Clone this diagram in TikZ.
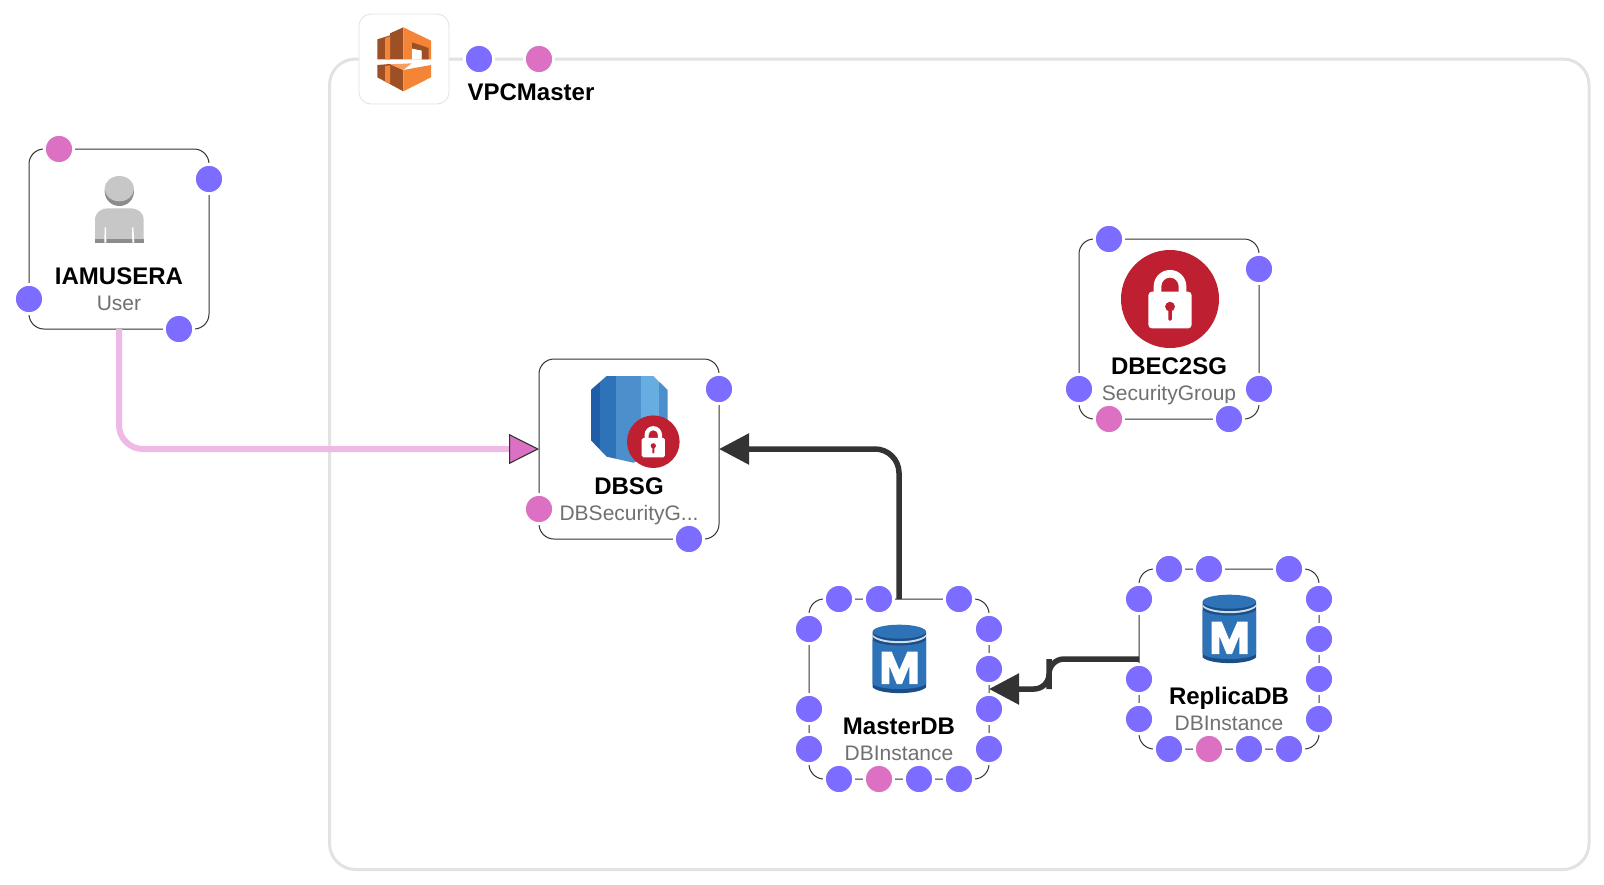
\documentclass[tikz,border=0pt]{standalone}
\usepackage{fontspec}
\setmainfont{Liberation Sans}
\usetikzlibrary{arrows.meta}
\definecolor{portblue}{HTML}{7C6CFF}
\definecolor{portpink}{HTML}{DC70C3}
\definecolor{pinkline}{HTML}{EEB9E5}
\definecolor{darkline}{HTML}{333333}
\definecolor{groupline}{HTML}{E2E2E2}
\definecolor{subtext}{HTML}{707070}
\definecolor{lockred}{HTML}{BE2031}
\definecolor{awsor}{HTML}{F58536}
\definecolor{awsdk}{HTML}{9D5025}
\definecolor{dbblue}{HTML}{2E73B8}
\definecolor{dbdark}{HTML}{1B4E86}
\definecolor{rdsa}{HTML}{1F5DA8}
\definecolor{rdsb}{HTML}{2E73B8}
\definecolor{rdsc}{HTML}{4D8FCC}
\definecolor{rdsd}{HTML}{66ADE1}
\tikzset{
  x=0.5pt,y=-0.5pt,
  resbox/.style={draw=darkline,line width=0.5pt,fill=white,rounded corners=7.5pt,minimum size=90pt,inner sep=0pt,outer sep=0pt},
  groupbox/.style={draw=groupline,line width=1.5pt,rounded corners=13pt,minimum width=629.75pt,minimum height=405.25pt,inner sep=0pt,outer sep=0pt},
  iconbox/.style={draw=groupline,line width=0.4pt,fill=white,rounded corners=6pt,minimum size=45pt,inner sep=0pt},
  bport/.style={circle,fill=portblue,draw=white,line width=1.4pt,minimum size=14.6pt,inner sep=0pt},
  pport/.style={bport,fill=portpink},
  title/.style={font=\bfseries\fontsize{12}{14}\selectfont,text=black,inner sep=0pt,anchor=base},
  subtitle/.style={font=\fontsize{10.5}{13}\selectfont,text=subtext,inner sep=0pt,anchor=base},
  pinkconn/.style={draw=pinkline,line width=3pt,rounded corners=12pt,
    -{Triangle[length=15pt,width=15pt,line width=0.55pt,color=darkline,fill=portpink,sep=0pt]}},
  darkconn/.style={draw=darkline,line width=2.75pt,rounded corners=12pt,
    -{Triangle[length=15pt,width=15pt,color=darkline,fill=darkline]}},
}
\newcommand{\lockicon}[3]{%
  \begin{scope}[shift={(#1,#2)},x=#3*0.5pt,y=#3*0.5pt]
    \fill[lockred] (0,0) circle (1);
    \fill[white] (-.333,.12) -- (-.333,.26) arc (180:0:.333) -- (.333,.12) -- (.177,.12) -- (.177,.26) arc (0:180:.177) -- (-.177,.12) -- cycle;
    \fill[white,rounded corners=#3*0.035pt] (-.44,.15) rectangle (.44,-.6);
    \fill[lockred] (0,-.156) circle (.1);
    \fill[lockred,rounded corners=#3*0.012pt] (-.036,-.156) rectangle (.036,-.44);
  \end{scope}}
\newcommand{\dbicon}[2]{%
  \begin{scope}[shift={(#1,#2)},x=0.16667pt,y=-0.16667pt]
    \fill[dbdark] (308,215) -- (308,382) .. controls (330,405) and (446,405) .. (468,382) -- (468,215) -- cycle;
    \fill[dbblue] (308,240) .. controls (330,262) and (446,262) .. (468,240) -- (468,372) .. controls (446,392) and (330,392) .. (308,372) -- cycle;
    \fill[white!75!dbblue] (308,224) .. controls (330,250) and (446,250) .. (468,224) -- (468,230) .. controls (446,256) and (330,256) .. (308,230) -- cycle;
    \fill[dbblue] (388,215) ellipse (80 and 21);
    \fill[white] (335,275) -- (365,275) -- (388,330) -- (412,275) -- (443,275) -- (443,372) -- (418,372) -- (418,318) -- (396,372) -- (380,372) -- (358,318) -- (358,372) -- (335,372) -- cycle;
  \end{scope}}
\begin{document}
\begin{tikzpicture}
\useasboundingbox (0,0) rectangle (1604,884);
% group
\node[groupbox] (vpc) at (959.25,464.25) {};
\node[iconbox] (vpcicon) at (404,59) {};
\begin{scope}[shift={(340,0)},x=0.16667pt,y=-0.16667pt]
  \fill[awsdk] (112,118) -- (150,106) -- (150,100) -- (190,82) -- (190,178) -- (112,178) -- cycle;
  \fill[awsor] (135,114) -- (150,109) -- (150,178) -- (135,178) -- cycle;
  \fill[awsor] (190,82) -- (273,122) -- (273,178) -- (190,178) -- cycle;
  \fill[awsdk] (216,127) -- (266,144) -- (266,178) -- (245,178) -- (245,152) -- (216,146) -- cycle;
  \fill[white] (216,146) -- (245,152) -- (245,178) -- (216,178) -- cycle;
  \fill[awsdk] (112,195) -- (150,192) -- (190,210) -- (190,274) -- (112,232) -- cycle;
  \fill[awsor] (135,198) -- (150,196) -- (150,252) -- (135,244) -- cycle;
  \fill[awsor] (190,210) -- (273,195) -- (273,232) -- (190,274) -- cycle;
  \fill[awsor!80!white] (150,193) -- (215,190) -- (190,210) -- cycle;
\end{scope}
\node[title] (vpclabel) at (531,100) {VPCMaster};
% resources
\node[resbox] (iam) at (119,239) {};
\node[resbox] (dbsg) at (629,449) {};
\node[resbox] (dbec) at (1169,329) {};
\node[resbox] (master) at (899,689) {};
\node[resbox] (replica) at (1229,659) {};
% connectors
\draw[pinkconn] (iam.south) |- (dbsg.west);
\draw[darkconn] (master.north) |- (dbsg.east);
\coordinate (bend) at (1049,674);
\draw[darkconn,rounded corners=7.5pt] (replica.west) -| (bend) |- (master.east);
% person icon
\begin{scope}[shift={(0,120)},x=0.16667pt,y=-0.16667pt]
  \fill[black!45] (358,214) circle (44);
  \fill[black!22] (358,206) ellipse (44 and 38);
  \fill[black!22] (285,368) -- (285,300) .. controls (285,278) and (302,265) .. (325,265) -- (391,265) .. controls (414,265) and (431,278) .. (431,300) -- (431,368) -- cycle;
  \fill[black!45] (285,358) rectangle (431,368);
  \fill[white] (314,322) -- (318,322) -- (319,368) -- (313,368) -- cycle;
  \fill[white] (396,322) -- (400,322) -- (403,368) -- (397,368) -- cycle;
\end{scope}
% rds icon
\begin{scope}[shift={(490,340)},x=0.16667pt,y=-0.16667pt]
  \clip (302,150) -- (350,108) -- (490,108) -- (533,150) -- (533,300) -- (490,345) -- (430,368) -- (350,350) -- (302,300) -- cycle;
  \fill[rdsa] (302,100) rectangle (330,370);
  \fill[rdsb] (330,100) rectangle (378,370);
  \fill[rdsc] (378,100) rectangle (453,370);
  \fill[rdsd] (453,100) rectangle (507,370);
  \fill[rdsc] (507,100) rectangle (533,370);
\end{scope}
\lockicon{653.3}{441.7}{26.3}
\lockicon{1170}{299}{49}
\dbicon{770}{560}
\dbicon{1100}{530}
% labels
\node[title] (iamt) at (119,284.5) {IAMUSERA};
\node[subtitle] (iams) at (119,310) {User};
\node[title] (dbsgt) at (629,494.5) {DBSG};
\node[subtitle] (dbsgs) at (629,520) {DBSecurityG...};
\node[title] (dbect) at (1169,374.5) {DBEC2SG};
\node[subtitle] (dbecs) at (1169,400.5) {SecurityGroup};
\node[title] (mastert) at (899,734.5) {MasterDB};
\node[subtitle] (masters) at (899,760) {DBInstance};
\node[title] (replicat) at (1229,704.5) {ReplicaDB};
\node[subtitle] (replicas) at (1229,730) {DBInstance};
% ports
\foreach \i/\p in {a/{479,59},b/{209,179},c/{29,299},d/{179,329},e/{719,389},f/{689,539},
  g/{1109,239},h/{1259,269},i/{1079,389},j/{1259,389},k/{1229,419},
  l/{839,599},m/{879,599},n/{959,599},o/{989,629},p/{989,669},q/{989,709},r/{989,749},
  s/{809,629},t/{809,709},u/{809,749},v/{839,779},w/{919,779},x/{959,779},
  aa/{1169,569},ab/{1209,569},ac/{1289,569},ad/{1319,599},ae/{1319,639},af/{1319,679},ag/{1319,719},
  ah/{1139,599},ai/{1139,679},aj/{1139,719},ak/{1169,749},al/{1249,749},am/{1289,749}}
  \node[bport] (port\i) at (\p) {};
\foreach \i/\p in {a/{539,59},b/{59,149},c/{539,509},d/{1109,419},e/{879,779},f/{1209,749}}
  \node[pport] (pinkport\i) at (\p) {};
\end{tikzpicture}
\end{document}
